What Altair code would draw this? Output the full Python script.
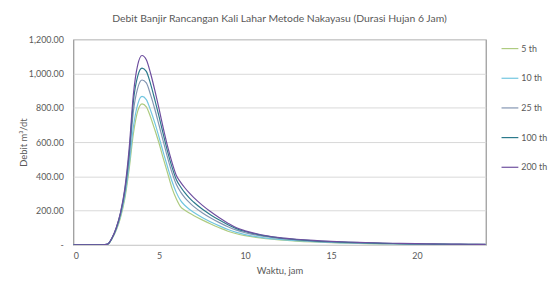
import altair as alt
import pandas as pd

hours = [0, 1, 1.5, 2, 2.25, 2.5, 2.75, 3, 3.25, 3.5, 3.75, 4, 4.25, 4.5, 4.75,
         5, 5.25, 5.5, 5.75, 6, 6.25, 6.5, 6.75, 7, 7.5, 8, 8.5, 9, 9.5, 10,
         11, 12, 13, 14, 15, 16, 17, 18, 19, 20, 21, 22, 23, 24]

q5 = [0, 0, 0, 4, 35, 85, 160, 270, 440, 650, 780, 823, 805, 745, 670,
      590, 500, 415, 330, 268, 222, 202, 186, 172, 146, 122, 100, 80, 65, 54,
      39, 29, 22, 17, 13, 10, 8, 6, 5, 4, 3, 2.5, 2, 1.5]
q10 = [0, 0, 0, 4, 37, 90, 170, 285, 465, 690, 820, 866, 848, 785, 710,
       625, 535, 450, 370, 305, 258, 230, 208, 190, 160, 134, 111, 90, 73, 60,
       43, 32, 25, 19, 15, 11, 9, 7, 5.5, 4.5, 3.5, 3, 2.5, 2]
q25 = [0, 0, 0, 4, 38, 95, 180, 305, 505, 780, 915, 962, 945, 875, 790,
       695, 600, 505, 420, 352, 308, 275, 248, 225, 188, 157, 130, 106, 86, 71,
       51, 38, 29, 22, 17, 13, 10, 8, 6.5, 5, 4, 3.5, 3, 2.5]
q100 = [0, 0, 0, 5, 39, 98, 185, 318, 530, 840, 985, 1031, 1012, 938, 845,
        745, 640, 540, 452, 380, 338, 303, 274, 250, 209, 175, 145, 118, 95, 78,
        56, 41, 31, 24, 19, 15, 12, 9.5, 7.5, 6, 5, 4, 3.5, 3]
q200 = [0, 0, 0, 5, 40, 100, 190, 330, 560, 880, 1050, 1105, 1080, 1000, 900,
        790, 675, 570, 480, 405, 365, 332, 303, 277, 232, 193, 158, 127, 100, 82,
        58, 43, 33, 26, 21, 17, 14, 11, 9, 7, 6, 5, 4, 3]

series_names = ["5 th", "10 th", "25 th", "100 th", "200 th"]
series_values = [q5, q10, q25, q100, q200]
series_colors = ["#aecb80", "#72c6e0", "#8395b2", "#2c7a8c", "#6e4f9f"]
series_widths = [1.2, 1.2, 1.2, 1.4, 2.4]

x_ticks = [0, 5, 10, 15, 20]
y_ticks = [0, 200, 400, 600, 800, 1000, 1200]

rows = []
for name, vals in zip(series_names, series_values):
    for t, v in zip(hours, vals):
        rows.append({"t": t, "q": v, "series": name})
df = pd.DataFrame(rows)

FONT = "Lato"
GREY = "#595959"

chart = alt.Chart(df).mark_line(interpolate="monotone", clip=True).encode(
    x=alt.X("t:Q",
            scale=alt.Scale(domain=[0, 24], nice=False, zero=False),
            axis=alt.Axis(values=x_ticks, title="Waktu, jam", grid=False,
                          ticks=False, domain=False, labelPadding=7,
                          titlePadding=5)),
    y=alt.Y("q:Q",
            scale=alt.Scale(domain=[0, 1200], nice=False),
            axis=alt.Axis(values=y_ticks, title="Debit m³/dt", grid=True,
                          ticks=False, domain=False, labelPadding=10,
                          labelExpr="datum.value == 0 ? '-\u00a0\u00a0\u00a0\u00a0' : format(datum.value, ',.2f')",
                          titleX=-50, titleY=104, titleBaseline="middle")),
    color=alt.Color("series:N",
                    scale=alt.Scale(domain=series_names, range=series_colors),
                    sort=series_names,
                    legend=alt.Legend(title=None)),
    strokeWidth=alt.StrokeWidth("series:N",
                                scale=alt.Scale(domain=series_names, range=series_widths),
                                sort=series_names,
                                legend=alt.Legend(title=None)),
).properties(
    width=417,
    height=208,
    autosize=alt.AutoSizeParams(type="none"),
    padding={"left": 66, "top": 30, "right": 64, "bottom": 40},
    title=alt.TitleParams(
        "Debit Banjir Rancangan Kali Lahar Metode Nakayasu (Durasi  Hujan 6 Jam)",
        font=FONT, fontSize=10.5, fontWeight="normal", color=GREY,
        anchor="middle", frame="group", offset=11),
).configure_view(
    stroke="#7f7f7f", strokeWidth=1
).configure_axis(
    labelFont=FONT, labelFontSize=9, labelColor=GREY,
    titleFont=FONT, titleFontSize=9.5, titleFontWeight="normal", titleColor=GREY,
    gridColor="#d9d9d9", gridWidth=1,
).configure_legend(
    orient="none", legendX=432, legendY=0,
    symbolType="stroke", symbolSize=289,
    labelFont=FONT, labelFontSize=9, labelColor=GREY, labelOffset=2,
    rowPadding=15, padding=0,
)

chart.save("out.html", embed_options={"renderer": "svg", "actions": False})
